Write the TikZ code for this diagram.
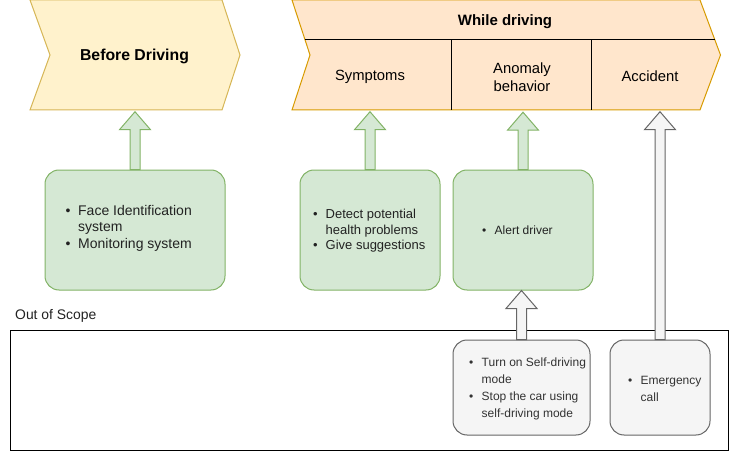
\documentclass[tikz,border=0pt]{standalone}
\usepackage{fontspec}
\setmainfont{Liberation Sans}
\usetikzlibrary{calc}
\definecolor{ylwF}{HTML}{FFF2CC}\definecolor{ylwD}{HTML}{D6B656}
\definecolor{orgF}{HTML}{FFE6CC}\definecolor{orgD}{HTML}{D79B00}
\definecolor{grnF}{HTML}{D5E8D4}\definecolor{grnD}{HTML}{82B366}
\definecolor{gryF}{HTML}{F5F5F5}\definecolor{gryD}{HTML}{666666}
\definecolor{txtG}{HTML}{222222}\definecolor{txtY}{HTML}{333333}
\newcommand\bl[1]{\makebox[12.5pt][l]{\textbullet}#1}
\newcommand\ind{\hspace*{12.5pt}}
\newcommand\blockarrow[3]{\draw[#1] let \p1=(#2), \p2=(#3) in
  (\x1-5pt,\y1) -- (\x1-5pt,\y2-18pt) -- (\x1-15.5pt,\y2-18pt) -- (\x1,\y2)
  -- (\x1+15.5pt,\y2-18pt) -- (\x1+5pt,\y2-18pt) -- (\x1+5pt,\y1) -- cycle;}
\tikzset{
  gbox/.style={draw=grnD, fill=grnF, line width=1pt, rounded corners=14pt},
  ybox/.style={draw=gryD, fill=gryF, line width=1pt, rounded corners=14pt},
  garrow/.style={draw=grnD, fill=grnF, line width=1pt, line join=miter},
  yarrow/.style={draw=gryD, fill=gryF, line width=1pt, line join=miter},
  cell/.style={inner sep=0pt, align=center, font=\fontsize{14.8pt}{17.8pt}\selectfont},
  lst/.style={anchor=west, align=left, inner sep=0pt},
}
\begin{document}
\begin{tikzpicture}[x=1pt,y=-1pt]
\useasboundingbox (0,0) rectangle (732,452);
% chevrons
\draw[draw=ylwD, fill=ylwF, line width=1pt] (30,0) -- (222,0) -- (240,55) -- (222,110) -- (30,110) -- (50,55) -- cycle;
\draw[draw=orgD, fill=orgF, line width=1pt] (292,0) -- (700,0) -- (720.5,55) -- (700,110) -- (292,110) -- (310,55) -- cycle;
\draw[line width=1pt] (305,40) -- (714.6,40);
\draw[line width=1pt] (451,40) -- (451,110);
\draw[line width=1pt] (591,40) -- (591,110);
\node[inner sep=0pt, minimum height=110pt, font=\bfseries\fontsize{15.8pt}{19pt}\selectfont] (bd) at (134.5,56.5) {Before Driving};
\node[inner sep=0pt, font=\bfseries\fontsize{15pt}{18pt}\selectfont] (wd) at (505,21.5) {While driving};
\node[cell, minimum height=70pt] (sym) at (370,76.5) {Symptoms};
\node[cell, minimum height=70pt] (anom) at (522,77) {Anomaly\\behavior};
\node[cell, minimum height=70pt] (acc) at (650,76.5) {Accident};
% green boxes
\node[gbox, minimum width=180pt, minimum height=120pt] (g1) at (135,230) {};
\node[gbox, minimum width=140pt, minimum height=120pt] (g2) at (370,230) {};
\node[gbox, minimum width=140pt, minimum height=120pt] (g3) at (523,230) {};
\node[lst, text=txtG, font=\fontsize{14pt}{16.5pt}\selectfont] (t1) at (65.5,228)
  {\bl{Face Identification}\\\ind system\\\bl{Monitoring system}};
\node[lst, text=txtG, font=\fontsize{13pt}{15.6pt}\selectfont] (t2) at (313,231)
  {\bl{Detect potential}\\\ind health problems\\\bl{Give suggestions}};
\node[lst, text=txtG, font=\fontsize{12pt}{14.4pt}\selectfont] (t3) at (482,230.5)
  {\bl{Alert driver}};
% out of scope
\node[anchor=west, inner sep=0pt, text=txtG, font=\fontsize{13.9pt}{16pt}\selectfont] (oos) at (15,316) {Out of Scope};
\node[draw, line width=1pt, minimum width=718pt, minimum height=120pt, inner sep=0pt] (scope) at (369,390) {};
% gray boxes
\node[ybox, minimum width=137pt, minimum height=95pt] (y1) at (521.5,387.5) {};
\node[ybox, minimum width=100pt, minimum height=95pt] (y2) at (660,387.5) {};
\node[lst, text=txtY, font=\fontsize{12pt}{17pt}\selectfont] (t4) at (469,389)
  {\bl{Turn on Self-driving}\\\ind mode\\\bl{Stop the car using}\\\ind self-driving mode};
\node[lst, text=txtY, font=\fontsize{12pt}{17pt}\selectfont] (t5) at (628,389)
  {\bl{Emergency}\\\ind call};
% block arrows
\blockarrow{garrow}{g1.north}{bd.south}
\blockarrow{garrow}{g2.north}{sym.south}
\blockarrow{garrow}{g3.north}{anom.south}
\blockarrow{yarrow}{y1.north}{g3.south}
\blockarrow{yarrow}{y2.north}{acc.south}
\end{tikzpicture}
\end{document}
